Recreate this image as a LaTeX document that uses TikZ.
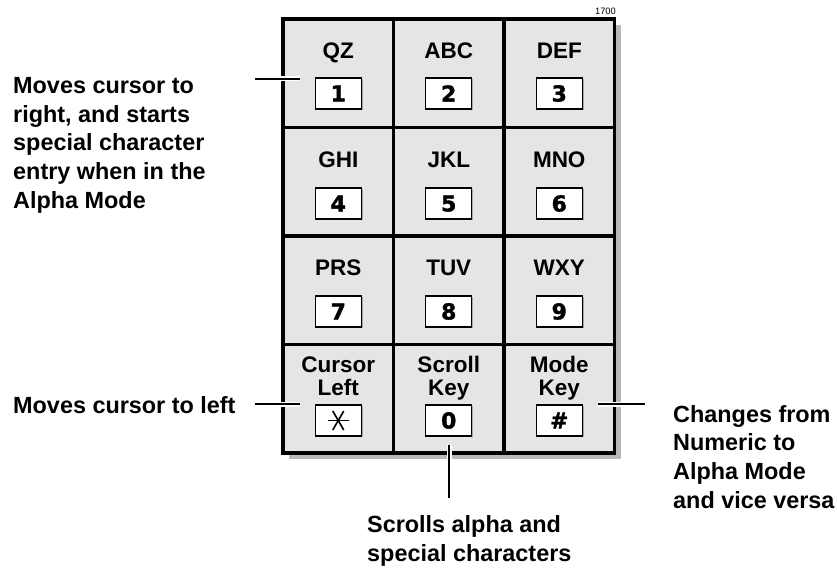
\documentclass[tikz,border=0pt]{standalone}
\usepackage{fontspec}
\setmainfont{Liberation Sans}
\newfontfamily\digitfont{DejaVu Sans}[BoldFeatures={FakeBold=1.5}]
\usetikzlibrary{shadows}
\definecolor{cellgray}{HTML}{E5E5E5}
\definecolor{shadowgray}{HTML}{B8B8B8}
\begin{document}
\begin{tikzpicture}[x=1pt,y=-1pt,
  lbl/.style={font=\fontsize{23.4}{28.7}\selectfont\bfseries, inner sep=0, align=left},
  keylbl/.style={font=\fontsize{22.5}{23}\selectfont\bfseries, inner sep=0, anchor=base, align=center},
  keybox/.style={draw=black, line width=1.3pt, fill=white, minimum width=46, minimum height=31, inner sep=0,
    font=\digitfont\bfseries\fontsize{22}{22}\selectfont,
    drop shadow={shadow xshift=1.3pt, shadow yshift=-1.3pt, opacity=1, fill=gray!70}},
  cell/.style={draw=black, line width=3.5pt, fill=cellgray, minimum width=110.5, minimum height=108.5, inner sep=0},
  leader/.style={line width=1.4pt, preaction={draw=white, line width=5pt}},
  starkey/.style={path picture={
    \draw[line width=1.6pt] ([xshift=-10.5pt]path picture bounding box.center) -- ([xshift=10.5pt]path picture bounding box.center);
    \draw[line width=1.6pt] ([xshift=-5.5pt,yshift=9.5pt]path picture bounding box.center) -- ([xshift=5.5pt,yshift=-9.5pt]path picture bounding box.center);
    \draw[line width=1.6pt] ([xshift=5.5pt,yshift=9.5pt]path picture bounding box.center) -- ([xshift=-5.5pt,yshift=-9.5pt]path picture bounding box.center);
  }}]
\useasboundingbox (0,0) rectangle (837,567);
% shadow of keypad
\fill[shadowgray] (289,25) rectangle (620.5,458.5);
% cells
\foreach \r/\y in {1/73.25,2/181.75,3/290.25,4/398.75}{
  \foreach \c/\x in {1/338.25,2/448.75,3/559.25}{
    \node[cell] (c\r\c) at (\x,\y) {};
  }
}
% key legends
\node[keylbl] (t11) at (338.25,58.5) {QZ};
\node[keylbl] (t12) at (448.75,58.5) {ABC};
\node[keylbl] (t13) at (559.25,58.5) {DEF};
\node[keylbl] (t21) at (338.25,167) {GHI};
\node[keylbl] (t22) at (448.75,167) {JKL};
\node[keylbl] (t23) at (559.25,167) {MNO};
\node[keylbl] (t31) at (338.25,275.5) {PRS};
\node[keylbl] (t32) at (448.75,275.5) {TUV};
\node[keylbl] (t33) at (559.25,275.5) {WXY};
\node[keylbl] (t41) at (338.25,395) {Cursor\\Left};
\node[keylbl] (t42) at (448.75,395) {Scroll\\Key};
\node[keylbl] (t43) at (559.25,395) {Mode\\Key};
% key boxes
\node[keybox] (k1) at (338.25,93.5) {1};
\node[keybox] (k2) at (448.75,93.5) {2};
\node[keybox] (k3) at (559.25,93.5) {3};
\node[keybox] (k4) at (338.25,203.5) {4};
\node[keybox] (k5) at (448.75,203.5) {5};
\node[keybox] (k6) at (559.25,203.5) {6};
\node[keybox] (k7) at (338.25,311.5) {7};
\node[keybox] (k8) at (448.75,311.5) {8};
\node[keybox] (k9) at (559.25,311.5) {9};
\node[keybox, starkey] (kstar) at (338.25,420.5) {};
\node[keybox] (k0) at (448.75,420.5) {0};
\node[keybox] (khash) at (559.25,420.5) {\#};
% figure number
\node[font=\fontsize{9.3}{10}\selectfont, inner sep=0, anchor=base east] (fig) at (616,15) {1700};
% side labels
\node[lbl, anchor=north west] (L1) at (13,77) {Moves cursor to\\right, and starts\\special character\\entry when in the\\Alpha Mode};
\node[lbl, anchor=base west] (L2) at (13,413) {Moves cursor to left};
\node[lbl, anchor=north west] (L3) at (673,405) {Changes from\\Numeric to\\Alpha Mode\\and vice versa};
\node[lbl, anchor=north west] (L4) at (367,515.5) {Scrolls alpha and\\special characters};
% leaders
\coordinate (a1) at (255,79);  \coordinate (b1) at (300,79);
\coordinate (a2) at (255,404); \coordinate (b2) at (300,404);
\coordinate (a3) at (645,404); \coordinate (b3) at (598,404);
\coordinate (a4) at (449,498); \coordinate (b4) at (449,445);
\draw[leader] (a1) -- (b1);
\draw[leader] (a2) -- (b2);
\draw[leader] (a3) -- (b3);
\draw[leader] (a4) -- (b4);
\end{tikzpicture}
\end{document}
